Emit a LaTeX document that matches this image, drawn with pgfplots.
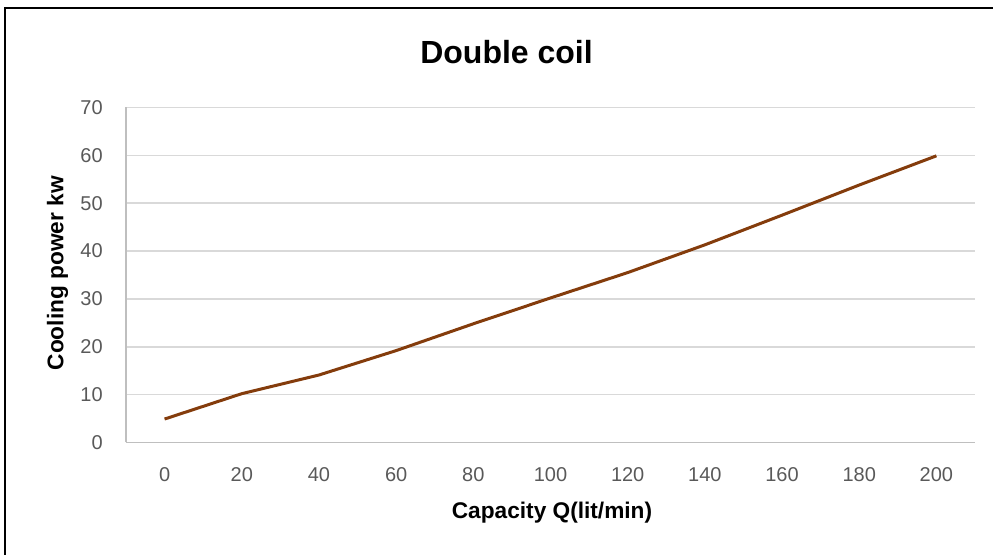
\documentclass[border=0pt]{standalone}
\usepackage{fontspec}
\setmainfont{Liberation Sans}
\usepackage{pgfplots}
\pgfplotsset{compat=1.18}

\definecolor{linebrown}{HTML}{843C0C}
\definecolor{gridgray}{HTML}{D9D9D9}
\definecolor{axisgray}{HTML}{BFBFBF}
\definecolor{tickgray}{HTML}{595959}

\begin{document}
\begin{tikzpicture}
% page = 993 x 555 px at 0.75pt per px
\useasboundingbox (0,0) rectangle (744.75pt,416.25pt);
% chart frame (left and top edges visible)
\draw[line width=1.6pt] (3.75pt,0pt) -- (3.75pt,410pt) -- (744.75pt,410pt);

\begin{axis}[
    at={(94.5pt,84.375pt)}, anchor=south west,
    scale only axis,
    width=636.75pt, height=251.25pt,
    xmin=-10, xmax=210,
    ymin=0, ymax=70,
    xtick={0,20,...,200},
    ytick={0,10,...,70},
    axis x line*=bottom,
    axis y line*=left,
    axis line style={-, draw=axisgray, line width=1.1pt},
    ymajorgrids=true,
    grid style={draw=gridgray, line width=1.1pt},
    major tick length=0pt,
    tick style={draw=none},
    ticklabel style={font=\fontsize{15}{18}\selectfont, text=tickgray},
    xticklabel style={inner sep=0pt, anchor=north, yshift=-18.75pt},
    yticklabel style={inner sep=0pt, anchor=east, xshift=-17.25pt},
    /pgf/number format/assume math mode=true,
    clip=false,
]
\addplot[color=linebrown, line width=2.25pt, line join=round, mark=none]
    coordinates {
    (0,4.9)(20,10.2)(40,14.1)(60,19.2)(80,24.8)(100,30.2)
    (120,35.5)(140,41.3)(160,47.5)(180,53.8)(200,59.9)
    };
\end{axis}

\node[anchor=base, font=\fontsize{24}{28}\bfseries\selectfont] at (379.9pt,368.8pt) {Double coil};
\node[anchor=base, font=\fontsize{17}{20}\bfseries\selectfont] at (414pt,27pt) {Capacity Q(lit/min)};
\node[anchor=base, rotate=90, font=\fontsize{17}{20}\bfseries\selectfont] at (47.6pt,211.3pt) {Cooling power kw};
\end{tikzpicture}
\end{document}
